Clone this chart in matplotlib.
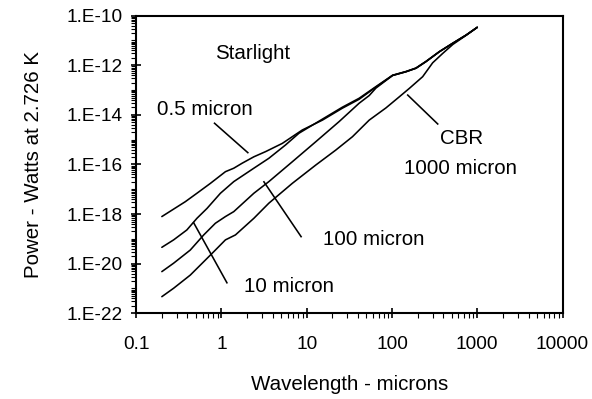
import matplotlib
matplotlib.use("Agg")
import matplotlib.pyplot as plt
from matplotlib.ticker import LogLocator, FixedLocator, NullFormatter
import numpy as np

plt.rcParams['font.family'] = ['Liberation Sans', 'DejaVu Sans']

# Values: wavelength (microns) and log10 of power (W)
# 0.5 micron curve
x_05 = [0.2, 0.377, 0.516, 0.743, 1.114, 1.396, 1.747, 2.40, 3.30, 5.17, 8.87, 15.3, 26.2, 41.2,
        64.8, 101.7, 146, 191, 251, 360, 517, 742, 1000]
logp_05 = [-18.10, -17.50, -17.16, -16.76, -16.29, -16.15, -15.95, -15.69, -15.48, -15.15, -14.61,
           -14.21, -13.73, -13.37, -12.88, -12.41, -12.26, -12.12, -11.85, -11.45, -11.11, -10.78, -10.47]
# 10 micron curve
x_10 = [0.2, 0.275, 0.393, 0.516, 0.678, 0.973, 1.396, 2.40, 3.60, 5.66, 8.11, 15.3, 26.2, 41.2,
        64.8, 101.7, 146, 191, 251, 360, 517, 742, 1000]
logp_10 = [-19.34, -19.04, -18.64, -18.17, -17.77, -17.16, -16.69, -16.15, -15.75, -15.21, -14.74,
           -14.17, -13.69, -13.33, -12.86, -12.40, -12.25, -12.11, -11.84, -11.45, -11.11, -10.78, -10.47]
# 100 micron curve
x_100 = [0.2, 0.275, 0.431, 0.62, 0.849, 1.114, 1.396, 2.40, 3.60, 6.78, 12.8, 24.0, 41.2, 54.1,
         64.8, 101.7, 146, 191, 251, 360, 517, 742, 1000]
logp_100 = [-20.32, -19.98, -19.45, -18.84, -18.37, -18.10, -17.90, -17.16, -16.69, -15.89, -15.08,
            -14.27, -13.53, -13.22, -12.92, -12.41, -12.26, -12.12, -11.85, -11.45, -11.11, -10.78, -10.47]
# 1000 micron (CBR) curve
x_1000 = [0.2, 0.275, 0.431, 0.62, 0.811, 1.114, 1.46, 2.40, 3.60, 6.78, 12.8, 21.9, 34.4, 54.1,
          84.9, 122, 160, 229, 300, 394, 517, 742, 1000]
logp_1000 = [-21.33, -20.99, -20.46, -19.92, -19.52, -19.04, -18.84, -18.17, -17.56, -16.76, -16.02,
             -15.42, -14.88, -14.21, -13.72, -13.27, -12.93, -12.46, -11.90, -11.52, -11.16, -10.79, -10.47]

x_ticks = [0.1, 1, 10, 100, 1000, 10000]
x_tick_labels = ["0.1", "1", "10", "100", "1000", "10000"]
y_ticks = [1e-22, 1e-20, 1e-18, 1e-16, 1e-14, 1e-12, 1e-10]
y_tick_labels = ["1.E-22", "1.E-20", "1.E-18", "1.E-16", "1.E-14", "1.E-12", "1.E-10"]

fig = plt.figure(figsize=(5.92, 3.99), dpi=100)
ax = fig.add_axes([0.2300, 0.2148, 0.9502 - 0.2300, 0.9607 - 0.2148])

lw = 1.15
for xs, lp in [(x_05, logp_05), (x_10, logp_10), (x_100, logp_100), (x_1000, logp_1000)]:
    ax.plot(xs, np.power(10.0, lp), color='black', lw=lw,
            solid_joinstyle='round', solid_capstyle='round')

ax.set_xscale('log')
ax.set_yscale('log')
ax.set_xlim(0.1, 10000)
ax.set_ylim(1e-22, 1e-10)

ax.xaxis.set_major_locator(FixedLocator(x_ticks))
ax.set_xticklabels(x_tick_labels)
ax.xaxis.set_minor_locator(LogLocator(base=10, subs=np.arange(2, 10), numticks=50))
ax.xaxis.set_minor_formatter(NullFormatter())
ax.yaxis.set_major_locator(FixedLocator(y_ticks))
ax.set_yticklabels(y_tick_labels)
ax.yaxis.set_minor_locator(LogLocator(base=10, subs=np.arange(1, 10), numticks=50))
ax.yaxis.set_minor_formatter(NullFormatter())

tfs = 13.7
fs = 14.8
ax.tick_params(axis='x', which='major', direction='inout', length=7, width=1.2, labelsize=tfs, pad=13)
ax.tick_params(axis='y', which='major', direction='inout', length=7, width=1.2, labelsize=tfs, pad=6)
ax.tick_params(axis='both', which='minor', direction='out', length=3.5, width=0.8)
for s in ax.spines.values():
    s.set_linewidth(1.5)

ax.set_xlabel("Wavelength - microns", fontsize=fs, labelpad=16)
ax.set_ylabel("Power - Watts at 2.726 K", fontsize=fs, labelpad=17)

lead_lw = 1.15
ax.text(0.83, 3.0e-12, "Starlight", fontsize=fs, ha='left', va='center')
ax.text(0.175, 1.6e-14, "0.5 micron", fontsize=fs, ha='left', va='center')
ax.plot([0.83, 2.04], [4.6e-15, 3.0e-16], color='black', lw=lead_lw)
ax.text(660, 1.07e-15, "CBR", fontsize=fs, ha='center', va='center')
ax.text(636, 7.2e-17, "1000 micron", fontsize=fs, ha='center', va='center')
ax.plot([153, 344], [6.3e-14, 4.3e-15], color='black', lw=lead_lw)
ax.text(15.6, 9.1e-20, "100 micron", fontsize=fs, ha='left', va='center')
ax.plot([3.15, 8.6], [2.0e-17, 1.23e-19], color='black', lw=lead_lw)
ax.text(1.83, 1.15e-21, "10 micron", fontsize=fs, ha='left', va='center')
ax.plot([0.472, 1.16], [4.5e-19, 1.7e-21], color='black', lw=lead_lw)

fig.savefig("out.png", dpi=100, facecolor='white')
